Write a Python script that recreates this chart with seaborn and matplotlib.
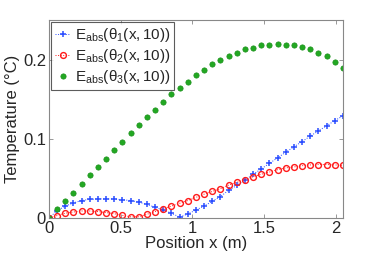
import matplotlib
matplotlib.use("Agg")
import matplotlib.pyplot as plt
import seaborn as sns
import numpy as np
import pandas as pd

# positions along the rod (m)
position = np.linspace(0, 2.05, 37)

theta1 = [0.000, 0.009, 0.015, 0.019, 0.022, 0.0235, 0.024, 0.024, 0.024, 0.023,
          0.022, 0.020, 0.017, 0.0135, 0.010, 0.006, 0.001, 0.005, 0.010, 0.015,
          0.021, 0.027, 0.035, 0.041, 0.048, 0.055, 0.062, 0.069, 0.076, 0.083,
          0.090, 0.0965, 0.1035, 0.110, 0.1165, 0.123, 0.129]

theta2 = [0.000, 0.003, 0.006, 0.0075, 0.0088, 0.0088, 0.008, 0.0068, 0.0053, 0.0032,
          0.0014, 0.0015, 0.0046, 0.008, 0.0113, 0.015, 0.0185, 0.022, 0.026, 0.030,
          0.0335, 0.037, 0.0415, 0.045, 0.048, 0.052, 0.0553, 0.058, 0.061, 0.0633,
          0.0645, 0.066, 0.067, 0.0675, 0.0675, 0.067, 0.0663]

theta3 = [0.000, 0.011, 0.021, 0.032, 0.043, 0.054, 0.064, 0.075, 0.086, 0.096,
          0.107, 0.117, 0.127, 0.137, 0.147, 0.156, 0.164, 0.172, 0.180, 0.187,
          0.194, 0.200, 0.204, 0.209, 0.213, 0.215, 0.218, 0.219, 0.220, 0.219,
          0.218, 0.216, 0.213, 0.209, 0.204, 0.197, 0.190]

labels = [r'$\mathregular{E_{abs}(θ_1(x,10))}$',
          r'$\mathregular{E_{abs}(θ_2(x,10))}$',
          r'$\mathregular{E_{abs}(θ_3(x,10))}$']

df = pd.DataFrame({"x": position, "t1": theta1, "t2": theta2, "t3": theta3})

sns.set_style("ticks")
plt.rcParams['font.family'] = ['Liberation Sans', 'DejaVu Sans']
plt.rcParams['mathtext.fontset'] = 'custom'
plt.rcParams['mathtext.rm'] = 'Liberation Sans'
plt.rcParams['mathtext.it'] = 'Liberation Sans:italic'

fig = plt.figure(figsize=(3.79, 2.54), dpi=100)
ax = fig.add_axes([0.129, 0.142, 0.776, 0.779])

blue = '#2a4dff'
red = '#ff1a1a'
green = '#22a822'

sns.lineplot(data=df, x="x", y="t1", ax=ax, color=blue, linestyle=':', linewidth=0.7,
             marker='+', markersize=4.5, markeredgewidth=1.1, markeredgecolor=blue,
             label=labels[0])
sns.lineplot(data=df, x="x", y="t2", ax=ax, color=red, linestyle=':', linewidth=0.7,
             marker='o', markersize=4.2, markerfacecolor='none', markeredgewidth=1.0,
             markeredgecolor=red, label=labels[1])
sns.lineplot(data=df, x="x", y="t3", ax=ax, color=green, linestyle='none',
             marker='o', markersize=3.8, markeredgewidth=0.5, markeredgecolor='#1a901a',
             label=labels[2])

ax.set_xlim(0, 2.05)
ax.set_ylim(0, 0.25)
ax.set_xticks([0, 0.5, 1, 1.5, 2])
ax.set_xticklabels(['0', '0.5', '1', '1.5', '2'])
ax.set_yticks([0, 0.1, 0.2])
ax.set_yticklabels(['0', '0.1', '0.2'])
ax.tick_params(direction='in', length=3, width=0.6, color='#888888', labelsize=12,
               top=True, right=True, pad=2)
for s in ax.spines.values():
    s.set_visible(True)
    s.set_color('#888888')
    s.set_linewidth(0.8)

ax.set_xlabel('Position x (m)', fontsize=12, labelpad=0)
ax.set_ylabel('Temperature (°C)', fontsize=12, labelpad=2)

leg = ax.legend(loc='upper left', fontsize=11, frameon=True, fancybox=False,
                borderaxespad=0.15, handlelength=1.0, handletextpad=0.3,
                labelspacing=0.2, borderpad=0.25, numpoints=1)
leg.get_frame().set_edgecolor('#333333')
leg.get_frame().set_linewidth(0.8)

fig.savefig("out.png", dpi=100)
